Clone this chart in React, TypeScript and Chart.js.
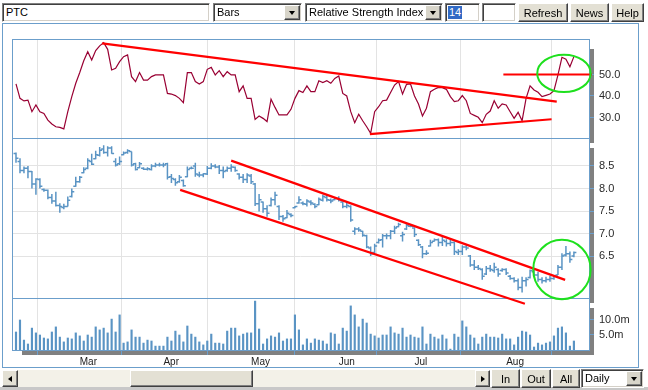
import React, { useEffect, useRef } from 'react';
import { Chart, registerables } from 'chart.js';

Chart.register(...registerables);

// ---------- data ----------
const monthLabels = ['Mar', 'Apr', 'May', 'Jun', 'Jul', 'Aug'];
const monthStartIndex = [16, 37, 59, 81, 100, 123];

const high = [8.80,8.67,8.49,8.50,8.39,8.23,8.23,8.00,7.98,7.88,
 7.93,7.67,7.66,7.82,8.00,8.26,8.28,8.47,8.67,8.77,
 8.84,8.92,8.96,8.94,8.94,8.67,8.71,8.82,8.87,8.82,
 8.57,8.59,8.47,8.47,8.54,8.57,8.57,8.57,8.57,8.32,
 8.23,8.30,8.20,8.49,8.49,8.57,8.37,8.34,8.50,8.56,
 8.54,8.52,8.49,8.49,8.54,8.49,8.34,8.32,8.34,8.32,
 8.12,7.88,7.71,7.63,7.80,7.93,7.63,7.41,7.52,7.45,
 7.61,7.83,7.71,7.76,7.74,7.67,7.80,7.86,7.86,7.78,
 7.80,7.83,7.71,7.71,7.63,7.14,7.14,7.06,6.97,6.71,
 6.77,6.89,6.99,7.00,7.08,7.17,7.24,7.04,7.23,7.19,
 7.14,6.87,6.72,6.63,6.86,6.89,6.89,6.93,6.87,6.86,
 6.82,6.65,6.74,6.74,6.52,6.41,6.30,6.23,6.28,6.30,
 6.35,6.23,6.23,6.23,6.08,6.03,6.00,6.04,6.03,6.20,
 6.19,6.15,6.03,6.04,6.06,6.08,6.30,6.56,6.72,6.60,
 6.60];

const low = [8.57,8.34,8.34,8.23,8.00,7.86,8.00,7.93,7.76,7.66,
 7.60,7.46,7.54,7.60,7.80,8.04,8.13,8.34,8.43,8.52,
 8.65,8.71,8.77,8.71,8.77,8.49,8.52,8.74,8.77,8.49,
 8.40,8.45,8.41,8.40,8.40,8.47,8.49,8.47,8.20,8.12,
 8.06,8.13,8.04,8.25,8.43,8.26,8.25,8.25,8.30,8.43,
 8.45,8.32,8.23,8.37,8.37,8.37,8.20,8.12,8.12,8.10,
 7.61,7.49,7.46,7.37,7.60,7.63,7.30,7.26,7.34,7.36,
 7.56,7.66,7.63,7.60,7.63,7.56,7.63,7.71,7.71,7.67,
 7.74,7.71,7.56,7.56,7.26,6.97,7.04,6.93,6.67,6.50,
 6.56,6.78,6.69,6.87,6.87,6.99,7.14,6.82,7.08,7.14,
 6.92,6.72,6.45,6.52,6.71,6.82,6.71,6.72,6.71,6.72,
 6.52,6.52,6.52,6.63,6.26,6.19,6.19,5.97,6.08,6.15,
 6.13,6.04,6.15,6.08,5.97,5.91,5.74,5.69,5.82,6.00,
 6.04,5.93,5.89,5.91,5.93,5.97,6.08,6.19,6.49,6.35,
 6.47];

const open = [8.78,8.60,8.40,8.45,8.38,8.10,8.20,7.98,7.96,7.80,
 7.72,7.62,7.58,7.60,7.82,8.05,8.15,8.35,8.45,8.60,
 8.66,8.74,8.88,8.80,8.90,8.60,8.55,8.75,8.80,8.82,
 8.55,8.46,8.45,8.43,8.42,8.50,8.52,8.52,8.55,8.26,
 8.20,8.15,8.18,8.26,8.45,8.50,8.30,8.30,8.32,8.45,
 8.50,8.48,8.40,8.40,8.45,8.47,8.32,8.25,8.20,8.28,
 8.10,7.66,7.70,7.55,7.62,7.75,7.60,7.38,7.35,7.42,
 7.57,7.68,7.68,7.65,7.70,7.65,7.64,7.74,7.80,7.74,
 7.75,7.78,7.70,7.60,7.60,7.05,7.10,7.05,6.95,6.68,
 6.58,6.80,6.86,6.95,6.95,7.05,7.15,6.95,7.10,7.16,
 7.12,6.85,6.70,6.55,6.72,6.83,6.86,6.80,6.82,6.78,
 6.80,6.58,6.60,6.70,6.50,6.30,6.25,6.20,6.10,6.22,
 6.18,6.20,6.18,6.20,6.05,6.00,5.95,5.80,5.95,6.02,
 6.15,6.08,5.98,5.95,5.98,6.00,6.08,6.25,6.52,6.55,
 6.50];

const close = [8.67,8.40,8.45,8.38,8.10,8.21,8.05,7.96,7.80,7.72,
 7.62,7.60,7.60,7.74,7.93,8.15,8.25,8.42,8.62,8.54,
 8.75,8.85,8.80,8.90,8.78,8.52,8.60,8.79,8.84,8.52,
 8.42,8.55,8.43,8.44,8.50,8.52,8.52,8.52,8.25,8.22,
 8.13,8.25,8.06,8.42,8.45,8.32,8.30,8.33,8.45,8.50,
 8.48,8.40,8.38,8.45,8.48,8.40,8.25,8.20,8.30,8.15,
 7.66,7.75,7.55,7.45,7.75,7.85,7.38,7.33,7.45,7.40,
 7.60,7.75,7.66,7.72,7.68,7.60,7.76,7.82,7.75,7.72,
 7.78,7.75,7.60,7.62,7.30,7.10,7.08,6.96,6.70,6.55,
 6.72,6.85,6.95,6.95,7.05,7.12,7.20,6.98,7.18,7.16,
 6.98,6.75,6.55,6.56,6.80,6.86,6.80,6.85,6.78,6.80,
 6.60,6.60,6.70,6.68,6.30,6.25,6.22,6.05,6.22,6.20,
 6.25,6.10,6.20,6.12,6.00,5.95,5.80,5.95,5.98,6.18,
 6.08,5.98,5.95,5.98,6.00,6.05,6.25,6.50,6.55,6.42,
 6.58];

const rsi = [45.6,38.9,37.7,38.1,32.7,35.8,32.7,31.9,28.8,27.0,
 25.7,25.4,24.7,32.7,39.7,45.9,50.9,56.4,60.6,56.7,
 61.1,63.3,64.8,61.7,52.1,52.9,56.0,58.3,59.1,49.0,
 46.7,50.9,47.4,47.4,49.0,49.8,49.8,49.8,41.2,40.9,
 40.2,38.9,36.9,50.9,50.9,46.7,45.6,46.7,52.4,53.3,
 49.8,51.8,49.0,51.3,49.8,49.8,42.0,44.7,38.9,38.9,
 29.1,30.7,29.6,28.1,38.5,34.7,31.2,31.2,31.2,33.8,
 38.9,42.5,41.6,44.7,42.0,42.0,47.1,46.2,47.1,45.9,
 48.2,49.3,41.2,40.0,32.7,27.6,31.5,28.5,25.7,22.6,
 32.7,35.0,37.8,38.1,41.6,45.1,46.7,40.9,45.4,45.6,
 40.0,36.3,30.7,34.3,42.0,43.1,44.0,43.9,43.1,39.7,
 37.4,37.8,40.2,37.8,31.9,31.0,30.1,27.6,31.5,33.0,
 37.8,34.3,36.3,35.8,32.7,29.6,32.4,28.5,38.9,44.7,
 42.8,41.7,39.7,40.3,40.9,42.5,49.8,58.0,57.1,53.6,
 58.3];

const volume = [6.0,10.0,3.3,2.0,7.3,5.7,5.0,4.0,3.7,6.0,
 7.7,4.3,2.7,4.0,3.7,5.7,4.7,3.0,5.0,4.3,
 7.7,6.7,7.3,5.7,10.3,6.0,11.7,2.3,2.7,6.7,
 4.3,4.3,2.3,3.3,3.0,1.3,1.3,1.3,4.3,3.0,
 6.3,5.0,2.7,8.0,5.3,4.3,2.7,1.7,3.0,5.3,
 2.3,2.3,2.0,6.3,7.3,7.3,4.7,5.3,5.7,5.7,
 16.3,7.0,2.0,3.7,4.7,4.3,5.7,3.0,3.7,3.7,
 11.7,6.7,1.7,3.7,2.3,3.7,3.3,3.0,2.0,5.7,
 5.3,2.0,7.3,6.3,14.7,11.7,7.7,10.3,9.0,5.3,
 4.7,4.0,5.0,5.0,7.7,5.7,5.3,7.3,4.3,5.0,
 4.3,4.0,7.7,2.0,5.3,4.3,3.7,5.0,3.7,0.3,
 5.3,4.3,9.7,7.7,5.0,4.0,2.0,4.3,5.3,4.3,
 4.3,4.0,5.3,3.7,3.7,1.7,4.3,6.3,6.0,5.0,
 1.0,2.3,1.7,2.3,2.7,4.7,7.3,7.7,5.7,1.3,
 3.0];

const rsiTicks = [30, 40, 50];
const priceTicks = [6.5, 7.0, 7.5, 8.0, 8.5];
const volumeTicks = [5, 10];

// trend lines drawn on the chart: [bar index, value] pairs
const rsiTrendLines = [
  [[21.6, 64.5], [135.7, 37.35]],
  [[88.8, 22.3], [134.4, 29.2]],
  [[122.3, 50.0], [144.5, 50.0]],
];
const priceTrendLines = [
  [[54.0, 8.62], [137.8, 5.97]],
  [[41.2, 7.97], [127.7, 5.44]],
];
// highlight ellipses: centre (index, value) and radii in data units
const rsiCircle = { x: 137.5, y: 50.5, rx: 6.7, ry: 8.7 };
const priceCircle = { x: 137.0, y: 6.2, rx: 7.2, ry: 0.66 };

// ---------- styles ----------
const FONT = "'Liberation Sans', Arial, sans-serif";
const BLUE = '#6b9ecb';
const BAR_BLUE = '#5a94c4';
const GRID = '#e3e3e3';
const RSI_COLOR = '#990033';
const TEXT = '#2a2a2a';

const ohlcTick = 0.62;
const ohlcPoints = high.flatMap((h, i) => [
  { x: i - ohlcTick, y: open[i] }, { x: i, y: open[i] }, { x: i, y: null },
  { x: i, y: low[i] }, { x: i, y: h }, { x: i, y: null },
  { x: i, y: close[i] }, { x: i + ohlcTick, y: close[i] }, { x: i + ohlcTick, y: null },
]);

const trendDataset = (pts: number[][], yAxisID: string) => ({
  type: 'line' as const,
  data: pts.map(([x, y]) => ({ x, y })),
  yAxisID,
  borderColor: '#ff0000',
  borderWidth: 2.2,
  pointRadius: 0,
  clip: false as any,
  order: 0,
});

const panelIds = ['yRSI', 'yPrice', 'yVol'];

const panelPlugin = {
  id: 'panels',
  beforeDraw(chart: any) {
    const { ctx, chartArea } = chart;
    ctx.save();
    ctx.fillStyle = '#ffffff';
    ctx.fillRect(0, 0, chart.width, chart.height);
    ctx.strokeStyle = BLUE;
    ctx.lineWidth = 1;
    ctx.strokeRect(2.5, 23.5, 636, 344);
    for (const id of panelIds) {
      const s = chart.scales[id];
      const l = chartArea.left, r = chartArea.right;
      ctx.fillStyle = '#808080';
      ctx.fillRect(l + 10, s.top + 10, r + 5 - (l + 10), s.bottom + 5 - (s.top + 10));
      ctx.fillStyle = '#ffffff';
      ctx.fillRect(l, s.top, r - l + 1, s.bottom - s.top + 1);
    }
    ctx.restore();
  },
  beforeDatasetsDraw(chart: any) {
    const { ctx, chartArea } = chart;
    ctx.save();
    ctx.strokeStyle = BLUE;
    ctx.lineWidth = 1;
    for (const id of panelIds) {
      const s = chart.scales[id];
      ctx.strokeRect(chartArea.left + 0.5, Math.round(s.top) + 0.5, chartArea.right - chartArea.left, Math.round(s.bottom) - Math.round(s.top));
    }
    ctx.restore();
  },
  afterDatasetsDraw(chart: any) {
    const { ctx } = chart;
    const xs = chart.scales.x;
    const draw = (id: string, e: any) => {
      const ys = chart.scales[id];
      const cx = xs.getPixelForValue(e.x);
      const cy = ys.getPixelForValue(e.y);
      const rx = Math.abs(xs.getPixelForValue(e.x + e.rx) - cx);
      const ry = Math.abs(ys.getPixelForValue(e.y + e.ry) - cy);
      ctx.beginPath();
      ctx.ellipse(cx, cy, rx, ry, 0, 0, Math.PI * 2);
      ctx.stroke();
    };
    ctx.save();
    ctx.strokeStyle = '#1ee01e';
    ctx.lineWidth = 2;
    draw('yRSI', rsiCircle);
    draw('yPrice', priceCircle);
    ctx.restore();
  },
};

const axisFont = { family: FONT, size: 11 };

const yAxis = (weight: number, min: number, max: number, ticks: number[], fmt: (v: number) => string, grid: boolean) => ({
  type: 'linear' as const,
  position: 'right' as const,
  stack: 'panels',
  stackWeight: weight,
  min,
  max,
  offset: false,
  afterFit: (s: any) => { s.width = 59; },
  afterBuildTicks: (s: any) => { s.ticks = ticks.map((v) => ({ value: v })); },
  grid: { drawOnChartArea: grid, color: GRID, tickColor: BLUE, tickLength: 5 },
  border: { display: false },
  ticks: { padding: 5, color: TEXT, font: axisFont, callback: (v: any) => fmt(Number(v)) },
});

// ---------- chrome ----------
const sunken: React.CSSProperties = {
  position: 'absolute', boxSizing: 'border-box', background: '#fff',
  borderTop: '1px solid #808080', borderLeft: '1px solid #808080',
  borderRight: '1px solid #ffffff', borderBottom: '1px solid #ffffff',
  boxShadow: 'inset 1px 1px 0 #404040, inset -1px -1px 0 #d4d0c8',
  overflow: 'hidden', whiteSpace: 'nowrap',
};
const raised: React.CSSProperties = {
  position: 'absolute', boxSizing: 'border-box', background: '#e3e0d4',
  borderTop: '1px solid #ffffff', borderLeft: '1px solid #ffffff',
  borderRight: '1px solid #404040', borderBottom: '1px solid #404040',
  boxShadow: 'inset -1px -1px 0 #808080',
  display: 'flex', alignItems: 'center', justifyContent: 'center', whiteSpace: 'nowrap',
};

function Tri({ dir }: { dir: 'down' | 'left' | 'right' }) {
  const st: React.CSSProperties = { width: 0, height: 0 };
  if (dir === 'down') Object.assign(st, { borderLeft: '3.5px solid transparent', borderRight: '3.5px solid transparent', borderTop: '4px solid #000' });
  if (dir === 'left') Object.assign(st, { borderTop: '3.5px solid transparent', borderBottom: '3.5px solid transparent', borderRight: '4px solid #000' });
  if (dir === 'right') Object.assign(st, { borderTop: '3.5px solid transparent', borderBottom: '3.5px solid transparent', borderLeft: '4px solid #000' });
  return <div style={st} />;
}

function Select({ left, top, width, height, text }: any) {
  return (
    <div style={{ ...sunken, left, top, width, height }}>
      <div style={{ position: 'absolute', left: 3, top: 0, height: height - 2, lineHeight: `${height - 2}px` }}>{text}</div>
      <div style={{ ...raised, background: '#d8d5ca', right: 1, top: 1, width: 16, height: height - 4 }}><Tri dir="down" /></div>
    </div>
  );
}

function Button({ left, top, width, height, text }: any) {
  return <div style={{ ...raised, left, top, width, height }}>{text}</div>;
}

export default function App() {
  const ref = useRef<HTMLCanvasElement | null>(null);

  useEffect(() => {
    if (!ref.current) return;
    const chart = new Chart(ref.current, {
      type: 'line',
      data: {
        datasets: [
          ...rsiTrendLines.map((l) => trendDataset(l, 'yRSI')),
          ...priceTrendLines.map((l) => trendDataset(l, 'yPrice')),
          {
            type: 'line',
            data: rsi.map((v, i) => ({ x: i, y: v })),
            yAxisID: 'yRSI',
            borderColor: RSI_COLOR,
            borderWidth: 1.2,
            pointRadius: 0,
            tension: 0,
            order: 2,
          },
          {
            type: 'line',
            data: ohlcPoints as any,
            yAxisID: 'yPrice',
            borderColor: BAR_BLUE,
            borderWidth: 1.5,
            pointRadius: 0,
            spanGaps: false,
            borderCapStyle: 'butt',
            order: 2,
          },
          {
            type: 'bar',
            data: volume.map((v, i) => ({ x: i, y: v })) as any,
            yAxisID: 'yVol',
            backgroundColor: BAR_BLUE,
            barThickness: 1.5,
            grouped: false,
            order: 2,
          } as any,
        ],
      },
      options: {
        responsive: false,
        animation: false,
        devicePixelRatio: 1,
        events: [],
        layout: { padding: { left: 12, top: 39, right: 0, bottom: 0 } },
        plugins: { legend: { display: false }, tooltip: { enabled: false }, title: { display: false } },
        scales: {
          x: {
            type: 'linear',
            position: 'bottom',
            min: -1.004,
            max: 143.79,
            offset: false,
            afterFit: (s: any) => { s.height = 40; },
            afterBuildTicks: (s: any) => { s.ticks = monthStartIndex.map((v) => ({ value: v })); },
            grid: { color: GRID, tickColor: BLUE, tickLength: 5, drawTicks: true },
            border: { display: false },
            ticks: {
              align: 'start',
              padding: 1,
              color: '#222',
              font: { family: FONT, size: 10 },
              maxRotation: 0,
              minRotation: 0,
              autoSkip: false,
              callback: (_v: any, idx: number) => monthLabels[idx],
            },
          },
          yRSI: yAxis(99, 20.47, 66.5, rsiTicks, (v) => v.toFixed(1), false),
          yPrice: yAxis(160, 5.567, 9.122, priceTicks, (v) => v.toFixed(1), true),
          yVol: yAxis(52, 0, 17.33, volumeTicks, (v) => v.toFixed(1) + 'm', false),
        } as any,
      },
      plugins: [panelPlugin],
    } as any);
    return () => chart.destroy();
  }, []);

  return (
    <div style={{ position: 'absolute', left: 0, top: 0, width: 648, height: 390, background: '#fff', overflow: 'hidden', fontFamily: FONT, fontSize: 11, color: '#000' }}>
      <canvas ref={ref} width={648} height={390} style={{ position: 'absolute', left: 0, top: 0, width: 648, height: 390 }} />
      {/* toolbar */}
      <div style={{ ...sunken, left: 2, top: 3, width: 208, height: 19, paddingLeft: 3, lineHeight: '17px' }}>PTC</div>
      <Select left={213} top={3} width={89} height={19} text="Bars" />
      <Select left={305} top={3} width={138} height={19} text="Relative Strength Index" />
      <div style={{ ...sunken, left: 445, top: 3, width: 35, height: 19 }}>
        <span style={{ position: 'absolute', left: 2, top: 2, height: 13, lineHeight: '13px', padding: '0 1px', background: '#316ac5', color: '#fff' }}>14</span>
      </div>
      <div style={{ ...sunken, left: 482, top: 3, width: 34, height: 19 }} />
      <Button left={518} top={3} width={50} height={19} text="Refresh" />
      <Button left={570} top={3} width={39} height={19} text="News" />
      <Button left={611} top={3} width={33} height={19} text="Help" />
      {/* bottom bar */}
      <div style={{ position: 'absolute', left: 0, top: 387, width: 648, height: 3, background: '#c8c8c8' }} />
      <div style={{ position: 'absolute', left: 18, top: 370, width: 457, height: 17, background: '#f3f1e8' }} />
      <Button left={2} top={370} width={16} height={17} text={<Tri dir="left" />} />
      <Button left={130} top={370} width={123} height={17} text="" />
      <Button left={475} top={370} width={15} height={17} text={<Tri dir="right" />} />
      <Button left={491} top={369} width={29} height={19} text="In" />
      <Button left={521} top={369} width={30} height={19} text="Out" />
      <Button left={552} top={369} width={28} height={19} text="All" />
      <Select left={581} top={369} width={63} height={19} text="Daily" />
    </div>
  );
}
